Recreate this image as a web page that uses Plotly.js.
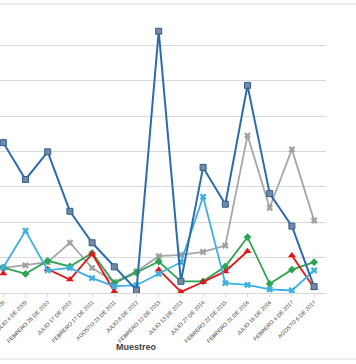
<!DOCTYPE html>
<html>
<head>
<meta charset="utf-8">
<script src="https://cdn.plot.ly/plotly-3.0.1.min.js"></script>
<style>html,body{margin:0;padding:0;background:#fff;}#chart{width:356px;height:364px;}</style>
</head>
<body>
<div id="chart"></div>
<script>
const categories = [
  "FEBRERO 7 DE 2009", "JULIO 4 DE 2009", "FEBRERO 26 DE 2010", "JULIO 17 DE 2010",
  "FEBRERO 17 DE 2011", "AGOSTO 23 DE 2011", "JULIO 8 DE 2012", "FEBRERO 10 DE 2013",
  "JULIO 13 DE 2013", "JULIO 27 DE 2014", "FEBRERO 22 DE 2015", "FEBRERO 21 DE 2016",
  "JULIO 16 DE 2016", "FEBRERO 4 DE 2017", "AGOSTO 6 DE 2017"
];
const serieAzul  = [4.25, 3.21, 3.99, 2.31, 1.42, 0.74, 0.08, 7.40, 0.33, 3.55, 2.51, 5.87, 2.81, 1.89, 0.18];
const serieGris  = [0.71, 0.78, 0.87, 1.42, 0.71, 0.31, 0.61, 1.04, 1.08, 1.16, 1.34, 4.45, 2.41, 4.06, 2.05];
const serieVerde = [0.72, 0.54, 0.91, 0.75, 1.13, 0.28, 0.58, 0.89, 0.33, 0.33, 0.75, 1.58, 0.26, 0.66, 0.87];
const serieRoja  = [0.55, null, 0.67, 0.38, 1.11, 0.04, null, 0.66, 0.03, 0.31, 0.61, 1.18, null, 1.06, 0.14];
const serieCian  = [0.72, 1.76, 0.64, 0.71, 0.42, 0.19, 0.22, 0.54, 0.87, 2.72, 0.28, 0.23, 0.10, 0.07, 0.64];
const xTitle = "Muestreo";

const idx = categories.map((c, i) => i);

const traces = [
  {x: idx, y: serieGris, mode: 'lines+markers', line: {color: '#a6a6a6', width: 1.8},
   marker: {symbol: 'x', size: 6, color: '#a0a0a0'}},
  {x: idx, y: serieVerde, mode: 'lines+markers', line: {color: '#2ea352', width: 1.8},
   marker: {symbol: 'diamond', size: 6, color: '#2ea352'}},
  {x: idx, y: serieRoja, mode: 'lines+markers', line: {color: '#e3161b', width: 1.8},
   marker: {symbol: 'triangle-up', size: 7, color: '#e3161b'}},
  {x: idx, y: serieCian, mode: 'lines+markers', line: {color: '#3cb0e0', width: 1.8},
   marker: {symbol: 'x', size: 6, color: '#3cb0e0'}},
  {x: idx, y: serieAzul, mode: 'lines+markers', line: {color: '#2b6cad', width: 2},
   marker: {symbol: 'square', size: 6, color: '#7589a6', line: {color: '#2b5f91', width: 1}}}
];

const layout = {
  width: 356, height: 364,
  margin: {l: 0, r: 30, t: 10, b: 71},
  paper_bgcolor: '#fff', plot_bgcolor: '#fff',
  showlegend: false,
  font: {family: 'Liberation Sans, Arial, sans-serif', color: '#595959'},
  xaxis: {
    range: [-0.149, 14.536],
    tickmode: 'array', tickvals: idx, ticktext: categories,
    tickangle: -45, tickfont: {size: 5.5, color: '#404040'},
    ticklabeloverflow: 'allow',
    ticks: 'outside', ticklen: 3, tickcolor: '#d9d9d9', tickson: 'boundaries',
    showline: true, linecolor: '#d9d9d9', linewidth: 1,
    showgrid: false, zeroline: false, automargin: false, fixedrange: true
  },
  yaxis: {
    range: [0, 8], dtick: 1, showticklabels: false, ticks: '',
    showgrid: true, gridcolor: '#d9d9d9', gridwidth: 1,
    zeroline: false, showline: false, automargin: false, fixedrange: true
  },
  shapes: [
    {type: 'line', xref: 'paper', yref: 'paper', x0: -0.05, x1: 1.2, y0: 1.0215, y1: 1.0215,
     line: {color: '#d9d9d9', width: 1}},
    {type: 'line', xref: 'paper', yref: 'paper', x0: -0.05, x1: 1.2, y0: -0.233, y1: -0.233,
     line: {color: '#d9d9d9', width: 1}}
  ],
  annotations: [
    {text: '<b>' + xTitle + '</b>', xref: 'paper', yref: 'paper', x: 0.418, y: -0.191,
     showarrow: false, xanchor: 'center', yanchor: 'middle',
     font: {size: 9, color: '#404040'}}
  ]
};

Plotly.newPlot('chart', traces, layout, {staticPlot: true, displayModeBar: false});
</script>
</body>
</html>
